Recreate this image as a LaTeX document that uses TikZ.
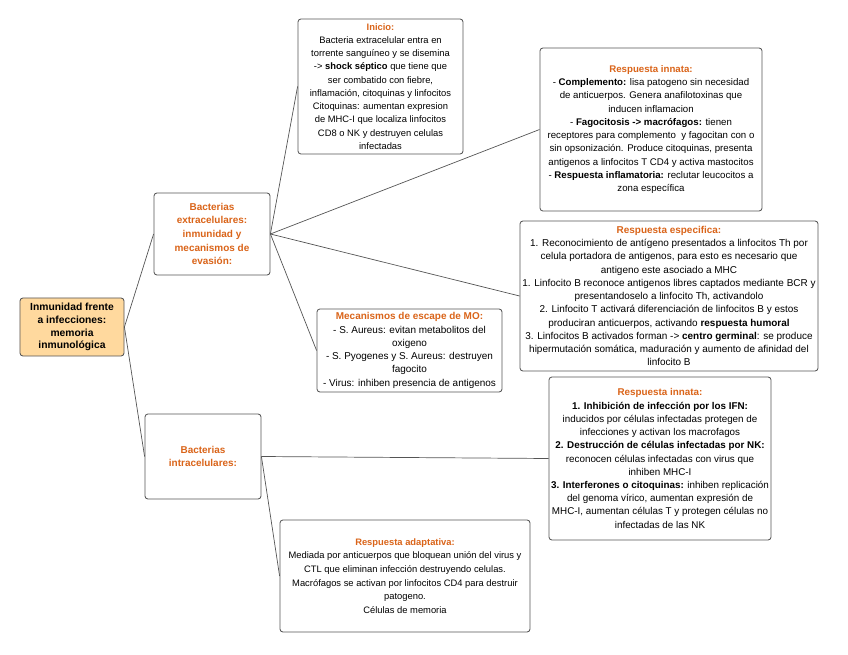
\documentclass[tikz,border=0pt]{standalone}
\usepackage{fontspec}
\setmainfont{Liberation Sans}
\usetikzlibrary{positioning}
\definecolor{ttlcol}{RGB}{218,100,25}
\definecolor{rootfill}{RGB}{255,217,158}
\definecolor{boxgray}{RGB}{85,85,85}
\newcommand{\boxtitle}[1]{\textcolor{ttlcol}{\textbf{#1}}}

\begin{document}
\begin{tikzpicture}[
    x=0.03cm, y=-0.03cm,
    box/.style={draw=boxgray, line width=0.7pt, rounded corners=2.5pt,
                fill=white, align=center, inner sep=1pt,
                font=\fontsize{#1}{11.3}\selectfont},
    box/.default=8,
    branch/.style={box, text=ttlcol, font=\fontsize{8.5}{11.6}\selectfont\bfseries},
    link/.style={draw=boxgray, line width=0.6pt}
  ]
  \useasboundingbox (0,0) rectangle (848,655);

  % Root
  \node[box, fill=rootfill, font=\fontsize{8.8}{11}\selectfont\bfseries,
        minimum width=3.12cm, minimum height=1.74cm] (root) at (72,327)
    {Inmunidad frente\\a infecciones:\\memoria\\inmunológica};

  % Main branches
  \node[branch, minimum width=3.48cm, minimum height=2.46cm] (ext) at (212,234)
    {Bacterias\\extracelulares:\\inmunidad y\\mecanismos de\\evasión:};
  \node[branch, minimum width=3.48cm, minimum height=2.55cm] (intra) at (203,456.5)
    {Bacterias\\intracelulares:};

  % Extracelulares leaves
  \node[box, minimum width=4.95cm, minimum height=4.05cm] (inicio) at (380.5,86.5)
    {\boxtitle{Inicio:}\\
     Bacteria extracelular entra en\\
     torrente sanguíneo y se disemina\\
     -> \textbf{shock séptico} que tiene que\\
     ser combatido con fiebre,\\
     inflamación, citoquinas y linfocitos\\
     Citoquinas: aumentan expresion\\
     de MHC-I que localiza linfocitos\\
     CD8 o NK y destruyen celulas\\
     infectadas};
  \node[box=8.25, minimum width=6.66cm, minimum height=4.89cm] (innata) at (651,129.5)
    {\boxtitle{Respuesta innata:}\\
     - \textbf{Complemento:} lisa patogeno sin necesidad\\
     de anticuerpos. Genera anafilotoxinas que\\
     inducen inflamacion\\
     - \textbf{Fagocitosis -> macrófagos:} tienen\\
     receptores para complemento\ \ y fagocitan con o\\
     sin opsonización. Produce citoquinas, presenta\\
     antigenos a linfocitos T CD4 y activa mastocitos\\
     - \textbf{Respuesta inflamatoria:} reclutar leucocitos a\\
     zona específica};
  \node[box=8.5, minimum width=8.94cm, minimum height=4.5cm] (espec) at (669,296)
    {\boxtitle{Respuesta especifica:}\\
     1. Reconocimiento de antígeno presentados a linfocitos Th por\\
     celula portadora de antigenos, para esto es necesario que\\
     antigeno este asociado a MHC\\
     1. Linfocito B reconoce antigenos libres captados mediante BCR y\\
     presentandoselo a linfocito Th, activandolo\\
     2. Linfocito T activará diferenciación de linfocitos B y estos\\
     produciran anticuerpos, activando \textbf{respuesta humoral}\\
     3. Linfocitos B activados forman -> \textbf{centro germinal}: se produce\\
     hipermutación somática, maduración y aumento de afinidad del\\
     linfocito B};
  \node[box=8.5, minimum width=5.55cm, minimum height=2.49cm] (escape) at (409.5,350.5)
    {\boxtitle{Mecanismos de escape de MO:}\\
     - S. Aureus: evitan metabolitos del\\
     oxigeno\\
     - S. Pyogenes y S. Aureus: destruyen\\
     fagocito\\
     - Virus: inhiben presencia de antigenos};

  % Intracelulares leaves
  \node[box=8.4, minimum width=6.66cm, minimum height=4.89cm] (innatavir) at (660,458.5)
    {\boxtitle{Respuesta innata:}\\
     \textbf{1. Inhibición de infección por los IFN:}\\
     inducidos por células infectadas protegen de\\
     infecciones y activan los macrofagos\\
     \textbf{2. Destrucción de células infectadas por NK:}\\
     reconocen células infectadas con virus que\\
     inhiben MHC-I\\
     \textbf{3. Interferones o citoquinas:} inhiben replicación\\
     del genoma vírico, aumentan expresión de\\
     MHC-I, aumentan células T y protegen células no\\
     infectadas de las NK};
  \node[box, font=\fontsize{8}{11.7}\selectfont,
        minimum width=7.5cm, minimum height=3.36cm] (adapt) at (405,576)
    {\boxtitle{Respuesta adaptativa:}\\
     Mediada por anticuerpos que bloquean unión del virus y\\
     CTL que eliminan infección destruyendo celulas.\\
     Macrófagos se activan por linfocitos CD4 para destruir\\
     patogeno.\\
     Células de memoria};

  % Links
  \draw[link] (root.east) -- (ext.west);
  \draw[link] (root.east) -- (intra.west);
  \foreach \leaf in {inicio, innata, espec, escape}
    \draw[link] (ext.east) -- (\leaf.west);
  \draw[link] (intra.east) -- (innatavir.west);
  \draw[link] (intra.east) -- (adapt.west);
\end{tikzpicture}
\end{document}
